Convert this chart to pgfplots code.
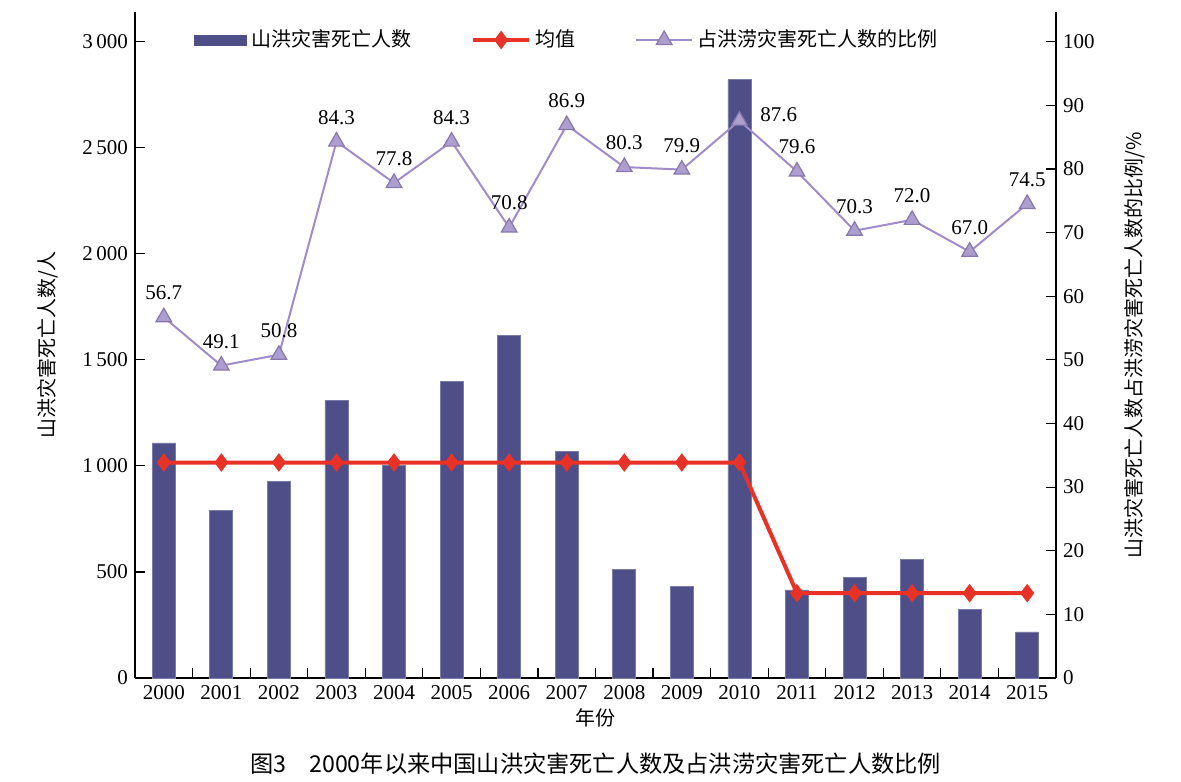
\documentclass[border=0pt]{standalone}
\usepackage{pgfplots}
\pgfplotsset{compat=1.18}
\usepackage{pgfplotstable}
\usepackage{fontspec}
\setmainfont{Liberation Serif}
\newfontfamily\cjk{Noto Sans CJK SC}
\definecolor{barcol}{RGB}{78,79,136}
\definecolor{meancol}{RGB}{232,50,40}
\definecolor{ratiocol}{RGB}{160,140,200}
\definecolor{trifill}{RGB}{172,158,206}

\pgfplotstableread{
x deaths mean
0 1108 1016
1 788 1016
2 926 1016
3 1308 1016
4 1000 1016
5 1398 1016
6 1613 1016
7 1069 1016
8 511 1016
9 431 1016
10 2821 1016
11 415 400
12 473 400
13 558 400
14 324 400
15 217 400
}\deathtable

\pgfplotstableread{
x ratio label
0 56.7 56.7
1 49.1 49.1
2 50.8 50.8
3 84.3 84.3
4 77.8 77.8
5 84.3 84.3
6 70.8 70.8
7 86.9 86.9
8 80.3 80.3
9 79.9 79.9
10 87.6 {}
11 79.6 79.6
12 70.3 70.3
13 72.0 72.0
14 67.0 67.0
15 74.5 74.5
}\ratiotable

\begin{document}
\begin{tikzpicture}
\pgfplotsset{
  common/.style={
    scale only axis, width=460.5pt, height=333pt,
    xmin=-0.5, xmax=15.5,
    tick align=inside,
    axis line style={line width=0.6pt},
    every tick/.style={black, line width=0.6pt},
    major tick length=5pt, minor tick length=5pt,
    /pgf/number format/assume math mode=true,
    tick label style={font=\fontsize{10.5}{12}\selectfont},
    label style={font=\cjk\fontsize{10}{12}\selectfont},
  }
}
\begin{axis}[common, name=ax,
  ymin=0, ymax=3140,
  axis x line*=bottom, axis y line*=left,
  xtick={0,...,15},
  xticklabels={2000,2001,2002,2003,2004,2005,2006,2007,2008,2009,2010,2011,2012,2013,2014,2015},
  major x tick style={draw=none},
  minor xtick={0.5,1.5,...,14.5},
  ytick={0,500,...,3000},
  /pgf/number format/1000 sep={\,},
  xlabel={年份},
  xlabel style={at={(axis description cs:0.5,-0.06)}, anchor=center},
  ylabel={山洪灾害死亡人数/人},
  ylabel style={at={(axis description cs:-0.0945,0.5)}, anchor=center},
]
\addplot[ybar, bar width=11.5pt, fill=barcol, draw=barcol!75!white, line width=0.4pt] table[x=x,y=deaths]{\deathtable};
\addplot[meancol, line width=2pt, mark=diamond*, mark size=3pt, mark options={fill=meancol, draw=meancol}] table[x=x,y=mean]{\deathtable};
\end{axis}
\begin{axis}[common,
  ymin=0, ymax=104.67,
  axis y line*=right, axis x line=none,
  ytick={0,10,...,100},
  ylabel={山洪灾害死亡人数占洪涝灾害死亡人数的比例/\%},
  ylabel style={at={(axis description cs:1.0858,0.5)}, anchor=center},
  legend style={draw=none, fill=none, at={(axis description cs:0.0575,0.958)}, anchor=west,
    font=\cjk\fontsize{10}{12}\selectfont,
    /tikz/every even column/.append style={column sep=28pt}},
  legend columns=3,
  legend image code/.code={\draw[mark repeat=2, mark phase=2, #1] plot coordinates {(0pt,0pt) (14pt,0pt) (28pt,0pt)};},
]
\addlegendimage{legend image code/.code={\fill[barcol] (0pt,-2.5pt) rectangle (26pt,2.5pt);}}
\addlegendentry{山洪灾害死亡人数}
\addlegendimage{meancol, line width=2pt, mark=diamond*, mark size=3pt, mark options={fill=meancol, draw=meancol}}
\addlegendentry{均值}
\addplot[ratiocol, line width=1pt, mark=triangle*, mark size=4.5pt,
  mark options={fill=trifill, draw=ratiocol!85!black, line width=0.6pt},
  nodes near coords, point meta=explicit symbolic,
  every node near coord/.append style={font=\fontsize{10.5}{12}\selectfont, black, yshift=5pt}]
  table[x=x,y=ratio,meta=label]{\ratiotable};
\addlegendentry{占洪涝灾害死亡人数的比例}
\node[anchor=west, font=\fontsize{10.5}{12}\selectfont] at (axis cs:10,87.6) [xshift=7pt, yshift=3pt] {87.6};
\end{axis}
\node[font=\cjk\fontsize{11.6}{13}\selectfont] at ([yshift=-43pt]ax.south) {图3\quad 2000年以来中国山洪灾害死亡人数及占洪涝灾害死亡人数比例};
\pgfresetboundingbox
\path ([xshift=-67.5pt, yshift=-51.5pt]ax.south west) rectangle ++(590.5pt,390.5pt);
\end{tikzpicture}
\end{document}
